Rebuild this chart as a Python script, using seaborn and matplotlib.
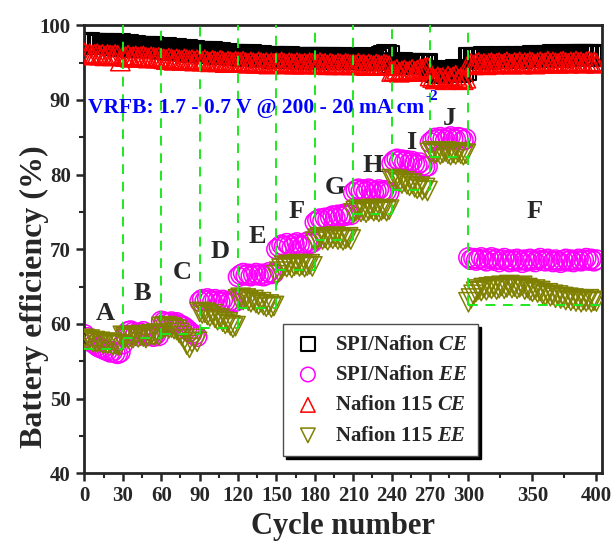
import numpy as np
import matplotlib
matplotlib.use('Agg')
import matplotlib.pyplot as plt
import seaborn as sns

# one point every 2 cycles, 0..400
cycles = np.arange(0, 401, 2)

# SPI/Nafion CE (%), rows = steps A..J (15 pts), then F (51 pts)
ce_spi = [97.7, 97.6, 97.7, 97.5, 97.6, 97.5, 97.4, 97.6, 97.5, 97.4, 97.5, 97.3, 97.4, 97.2, 97.5,
          97.3, 97.2, 97.4, 97.1, 97.2, 97.3, 97.1, 97.2, 97.0, 97.2, 97.1, 96.9, 97.1, 97.0, 96.9,
          96.9, 96.8, 97.0, 96.7, 96.8, 96.7, 96.8, 96.6, 96.7, 96.5, 96.7, 96.6, 96.4, 96.6, 96.5,
          96.4, 96.5, 96.3, 96.4, 96.2, 96.4, 96.3, 96.1, 96.3, 96.2, 96.1, 96.2, 96.0, 96.1, 96.0,
          96.0, 95.9, 96.1, 95.8, 95.9, 96.0, 95.8, 95.9, 95.7, 95.9, 95.8, 95.7, 95.8, 95.6, 95.8,
          95.8, 95.7, 95.8, 95.6, 95.7, 95.8, 95.6, 95.7, 95.7, 95.5, 95.7, 95.6, 95.5, 95.7, 95.6,
          95.7, 95.6, 95.5, 95.7, 95.6, 95.5, 95.6, 95.4, 95.6, 95.5, 95.4, 95.6, 95.5, 95.4, 95.5,
          95.5, 95.4, 95.6, 95.4, 95.5, 95.3, 95.4, 95.5, 95.3, 95.4, 95.6, 95.8, 95.9, 96.0, 95.9,
          94.9, 95.0, 94.8, 94.9, 95.0, 94.8, 94.9, 94.7, 94.9, 94.8, 94.7, 94.9, 94.8, 94.7, 94.8,
          93.8, 93.9, 93.7, 93.8, 93.6, 93.8, 93.7, 93.9, 93.7, 93.8, 94.0, 93.8, 93.7, 93.8, 93.9,
          95.6, 95.7, 95.5, 95.6, 95.7, 95.6, 95.8, 95.6, 95.7, 95.5,
          95.7, 95.6, 95.8, 95.7, 95.6, 95.7, 95.8, 95.6, 95.7, 95.8,
          95.7, 95.6, 95.8, 95.7, 95.8, 95.9, 95.7, 95.8, 95.9, 95.7,
          95.8, 95.9, 95.8, 96.0, 95.8, 95.9, 95.7, 95.9, 96.0, 95.8,
          95.9, 96.0, 96.1, 95.9, 96.0, 96.1, 96.0, 95.9, 96.1, 96.0, 95.9]

# SPI/Nafion EE (%)
ee_spi = [58.6, 58.2, 57.8, 57.5, 57.3, 57.0, 56.8, 56.7, 56.5, 56.4, 56.2, 56.3, 56.1, 56.0, 56.2,
          57.3, 58.5, 59.0, 59.1, 58.9, 58.7, 58.4, 58.8, 59.0, 58.6, 58.4, 58.5, 58.3, 58.6, 58.4,
          60.4, 60.3, 60.2, 60.1, 60.3, 60.0, 60.2, 59.9, 59.8, 59.6, 59.3, 59.0, 58.7, 58.5, 58.3,
          63.0, 63.3, 63.1, 63.4, 63.2, 63.0, 63.3, 63.1, 62.9, 63.2, 63.0, 62.8, 63.1, 62.9, 63.0,
          66.3, 66.6, 66.8, 66.5, 66.7, 66.4, 66.6, 66.8, 66.5, 66.7, 66.4, 66.6, 66.9, 66.7, 66.8,
          70.0, 70.3, 70.6, 70.4, 70.8, 70.5, 70.2, 70.7, 70.9, 70.6, 70.4, 70.8, 71.0, 70.7, 70.9,
          73.6, 73.9, 74.1, 73.8, 74.2, 74.0, 74.3, 74.5, 74.2, 74.6, 74.4, 74.7, 74.5, 74.8, 74.6,
          77.6, 77.9, 78.1, 77.8, 78.0, 77.7, 78.1, 77.9, 77.6, 77.8, 78.0, 77.7, 77.9, 77.8, 77.6,
          81.5, 81.9, 82.1, 81.8, 82.0, 81.7, 81.9, 81.6, 81.8, 81.5, 81.3, 81.6, 81.2, 81.0, 81.1,
          84.3, 84.6, 84.9, 84.7, 85.0, 84.8, 84.6, 84.9, 85.1, 84.8, 84.7, 85.0, 84.9, 84.6, 84.8,
          68.9, 68.6, 68.8, 68.5, 68.7, 68.9, 68.6, 68.4, 68.7, 68.9,
          68.5, 68.7, 68.3, 68.6, 68.8, 68.5, 68.3, 68.6, 68.4, 68.7,
          68.5, 68.2, 68.6, 68.4, 68.7, 68.5, 68.3, 68.6, 68.8, 68.5,
          68.4, 68.7, 68.5, 68.3, 68.6, 68.4, 68.2, 68.5, 68.7, 68.4,
          68.6, 68.3, 68.5, 68.7, 68.4, 68.6, 68.8, 68.5, 68.7, 68.4, 68.6]

# Nafion 115 CE (%)
ce_n115 = [96.3, 96.1, 96.2, 96.0, 96.1, 96.2, 96.0, 96.1, 95.9, 96.1, 96.0, 95.9, 96.1, 96.0, 95.2,
           95.9, 95.8, 96.0, 95.7, 95.8, 95.9, 95.7, 95.8, 95.9, 95.7, 95.6, 95.8, 95.7, 95.6, 95.7,
           95.6, 95.5, 95.4, 95.6, 95.5, 95.3, 95.5, 95.4, 95.3, 95.5, 95.4, 95.3, 95.4, 95.2, 95.4,
           95.3, 95.2, 95.4, 95.2, 95.1, 95.3, 95.2, 95.1, 95.3, 95.2, 95.0, 95.2, 95.1, 95.0, 95.2,
           95.1, 95.0, 95.2, 95.0, 94.9, 95.1, 95.0, 94.9, 95.1, 95.0, 94.9, 95.0, 94.8, 95.0, 94.9,
           95.0, 94.9, 95.1, 94.9, 94.8, 95.0, 94.9, 94.8, 95.0, 94.9, 94.8, 94.9, 94.8, 95.0, 94.9,
           94.9, 94.8, 95.0, 94.8, 94.9, 94.7, 94.9, 94.8, 94.7, 94.9, 94.8, 94.7, 94.9, 94.8, 94.7,
           94.8, 94.7, 94.9, 94.7, 94.8, 94.6, 94.8, 94.7, 94.6, 94.8, 94.7, 94.6, 94.8, 94.7, 94.6,
           93.8, 93.9, 94.1, 93.7, 93.9, 94.0, 93.8, 93.9, 94.1, 93.8, 94.0, 94.2, 94.1, 94.3, 94.4,
           93.2, 93.0, 92.8, 93.1, 92.9, 93.0, 92.7, 93.2, 92.9, 93.1, 93.3, 92.8, 93.0, 92.7, 92.9,
           94.8, 94.9, 94.7, 94.9, 95.0, 94.8, 94.9, 94.7, 94.9, 95.0,
           94.8, 94.9, 95.0, 94.8, 94.9, 95.1, 94.9, 94.8, 95.0, 94.9,
           95.1, 94.8, 95.0, 94.9, 95.1, 95.0, 94.8, 95.0, 95.1, 94.9,
           95.0, 95.2, 94.9, 95.1, 95.0, 94.9, 95.1, 95.2, 95.0, 94.9,
           95.1, 95.0, 95.2, 95.0, 95.1, 94.9, 95.1, 95.2, 95.0, 95.1, 94.9]

# Nafion 115 EE (%)
ee_n115 = [58.0, 57.8, 57.9, 57.6, 57.7, 57.5, 57.6, 57.4, 57.5, 57.3, 57.4, 57.2, 57.3, 57.1, 57.2,
           58.4, 58.2, 58.0, 58.3, 58.1, 58.4, 58.2, 58.5, 58.3, 58.1, 58.4, 58.6, 58.4, 58.7, 58.5,
           59.6, 59.5, 59.7, 59.4, 59.5, 59.3, 59.2, 58.8, 58.4, 57.9, 57.2, 56.8, 57.5, 58.0, 57.6,
           61.6, 61.4, 61.5, 61.2, 61.0, 61.3, 60.8, 60.5, 60.7, 60.3, 60.0, 60.2, 59.8, 59.5, 59.7,
           63.3, 63.5, 63.2, 63.4, 63.1, 62.9, 63.2, 62.8, 62.6, 62.9, 62.5, 62.3, 62.6, 62.2, 62.4,
           66.5, 67.0, 67.4, 67.8, 67.6, 67.9, 67.5, 67.8, 68.0, 67.7, 67.9, 67.6, 67.8, 68.0, 67.7,
           71.0, 71.4, 71.6, 71.3, 71.5, 71.2, 71.6, 71.4, 71.7, 71.3, 71.5, 71.2, 71.4, 71.6, 71.3,
           74.8, 75.1, 75.3, 75.0, 75.2, 74.9, 75.2, 75.4, 75.1, 75.3, 75.0, 75.2, 75.4, 75.1, 75.3,
           79.4, 79.2, 79.3, 79.0, 78.8, 79.1, 78.7, 78.5, 78.8, 78.3, 78.1, 78.4, 77.9, 78.2, 77.8,
           82.9, 83.1, 82.8, 83.0, 82.7, 82.9, 83.1, 82.8, 82.6, 82.9, 82.7, 83.0, 82.8, 82.6, 82.8,
           62.9, 63.4, 63.9, 64.3, 64.6, 64.4, 64.8, 64.5, 64.9, 64.7,
           65.0, 64.6, 64.8, 65.1, 64.7, 64.9, 65.2, 64.8, 65.0, 64.7,
           64.9, 65.1, 64.6, 64.8, 64.5, 64.3, 64.6, 64.2, 64.4, 64.0,
           63.8, 64.1, 63.7, 63.9, 63.5, 63.8, 63.4, 63.6, 63.2, 63.5,
           63.1, 63.4, 63.0, 63.3, 62.9, 63.2, 63.0, 63.3, 62.9, 63.1, 63.0]

for arr in (ce_spi, ee_spi, ce_n115, ee_n115):
    assert len(arr) == len(cycles), len(arr)

# current-density steps (green dashed guide)
step_edges = [0, 30, 60, 90, 120, 150, 180, 210, 240, 270, 300, 400]
step_levels = [56.7, 58.1, 58.7, 59.5, 62.1, 67.2, 71.2, 74.7, 77.9, 82.3, 62.5]
step_names = ['A', 'B', 'C', 'D', 'E', 'F', 'G', 'H', 'I', 'J', 'F']
name_x = [16, 45, 76, 106, 135, 166, 196, 225, 255, 285, 352]
name_y = [61.4, 64.1, 66.9, 69.7, 71.7, 75.0, 78.3, 81.2, 84.3, 87.5, 75.0]

sns.set_style('ticks')
plt.rcParams['font.family'] = ['Liberation Serif', 'DejaVu Serif']
plt.rcParams['font.weight'] = 'bold'
plt.rcParams['mathtext.fontset'] = 'custom'
plt.rcParams['mathtext.rm'] = 'Liberation Serif:bold'
plt.rcParams['mathtext.it'] = 'Liberation Serif:italic:bold'
plt.rcParams['mathtext.bf'] = 'Liberation Serif:bold'

fig = plt.figure(figsize=(6.12, 5.49), dpi=100)
ax = fig.add_axes([0.137, 0.138, 0.847, 0.816])

s = 13.9 ** 2
lw = 1.1
sns.scatterplot(x=cycles, y=ce_spi, marker='s', s=s, facecolor='none', edgecolor='black',
                linewidth=1.5, label='SPI/Nafion $\\mathit{CE}$', ax=ax, zorder=2)
sns.scatterplot(x=cycles, y=ee_spi, marker='o', s=s, facecolor='none', edgecolor='#ff00ff',
                linewidth=lw, label='SPI/Nafion $\\mathit{EE}$', ax=ax, zorder=2)
sns.scatterplot(x=cycles, y=ce_n115, marker='^', s=s, facecolor='none', edgecolor='#ff0000',
                linewidth=lw, label='Nafion 115 $\\mathit{CE}$', ax=ax, zorder=3)
sns.scatterplot(x=cycles, y=ee_n115, marker='v', s=s, facecolor='none', edgecolor='#808000',
                linewidth=lw, label='Nafion 115 $\\mathit{EE}$', ax=ax, zorder=3)

ax.set_xlim(-0.5, 404.5)
ax.set_ylim(40, 100)

# green dashed staircase
gcol = '#1ee81e'
dash = (0, (5, 4))
xend = ax.get_xlim()[1]
for i in range(len(step_levels)):
    right = step_edges[i + 1] if i < len(step_levels) - 1 else xend
    ax.hlines(step_levels[i], step_edges[i], right, colors=gcol, linestyles=dash, linewidth=1.4, zorder=5)
for i in range(1, len(step_levels)):
    ax.vlines(step_edges[i], min(step_levels[i - 1], step_levels[i]), 100, colors=gcol,
              linestyles=dash, linewidth=1.4, zorder=5)

for nm, x, y in zip(step_names, name_x, name_y):
    ax.text(x, y, nm, ha='center', va='center', fontsize=19, fontweight='bold', zorder=6)

vrfb = ax.text(3, 88.9, 'VRFB: 1.7 - 0.7 V @ 200 - 20 mA cm', color='#0000ff', fontsize=15.5,
               fontweight='bold', ha='left', va='center', zorder=6)
ax.annotate('-2', xy=(1.0, 0.78), xycoords=vrfb, xytext=(0.5, 0), textcoords='offset points',
            color='#0000ff', fontsize=11, fontweight='bold', ha='left', va='bottom', zorder=6)

ax.set_xticks([0, 30, 60, 90, 120, 150, 180, 210, 240, 270, 300, 350, 400])
ax.set_xticks([15, 45, 75, 105, 135, 165, 195, 225, 255, 285, 325, 375], minor=True)
ax.set_yticks([40, 50, 60, 70, 80, 90, 100])
ax.set_yticks([45, 55, 65, 75, 85, 95], minor=True)
ax.tick_params(which='major', direction='out', length=6, width=1.8, labelsize=15)
ax.tick_params(which='minor', direction='out', length=3.5, width=1.5)
for sp in ax.spines.values():
    sp.set_linewidth(2.0)
    sp.set_visible(True)

ax.set_xlabel('Cycle number', fontsize=22, fontweight='bold', labelpad=4)
ax.set_ylabel('Battery efficiency (%)', fontsize=23, fontweight='bold')
ax.yaxis.set_label_coords(-0.068, 0.393)

leg = ax.legend(loc='lower left', bbox_to_anchor=(0.384, 0.038), borderaxespad=0, fontsize=15,
                markerscale=0.75, frameon=True, fancybox=False, shadow={'color': 'black', 'alpha': 1},
                handletextpad=0.6, labelspacing=0.5, borderpad=0.5, handlelength=1.4)
leg.get_frame().set_edgecolor('0.3')
leg.get_frame().set_linewidth(1.0)
leg.get_frame().set_alpha(1)

fig.savefig('out.png', dpi=100)
